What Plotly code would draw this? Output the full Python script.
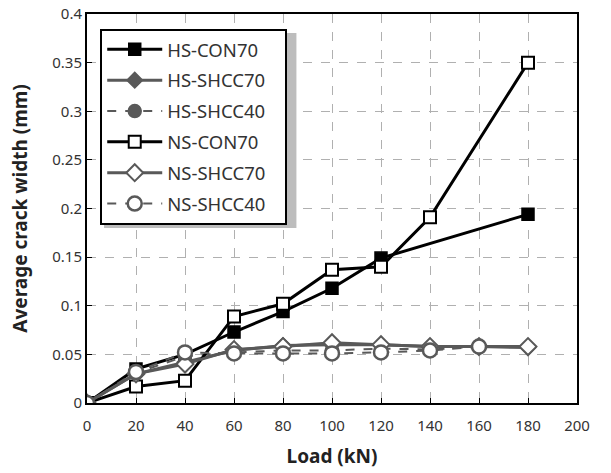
import plotly.graph_objects as go

load_con = [0, 20, 40, 60, 80, 100, 120, 180]
hs_con70 = [0, 0.035, 0.050, 0.073, 0.094, 0.118, 0.149, 0.194]
load_ns_con = [0, 20, 40, 60, 80, 100, 120, 140, 180]
ns_con70 = [0, 0.017, 0.023, 0.089, 0.102, 0.137, 0.140, 0.191, 0.350]

load_shcc = [0, 20, 40, 60, 80, 100, 120, 140, 160, 180]
hs_shcc70 = [0, 0.030, 0.042, 0.054, 0.059, 0.060, 0.060, 0.058, 0.058, 0.057]
ns_shcc70 = [0, 0.030, 0.040, 0.055, 0.058, 0.062, 0.060, 0.058, 0.058, 0.058]
load_shcc40 = [0, 20, 40, 60, 80, 100, 120, 140, 160]
hs_shcc40 = [0, 0.031, 0.048, 0.052, 0.054, 0.054, 0.056, 0.055, 0.058]
ns_shcc40 = [0, 0.032, 0.052, 0.051, 0.051, 0.051, 0.052, 0.054, 0.058]

series_names = ["HS-CON70", "HS-SHCC70", "HS-SHCC40", "NS-CON70", "NS-SHCC70", "NS-SHCC40"]

x_ticks = list(range(0, 201, 20))
y_ticks = [0, 0.05, 0.1, 0.15, 0.2, 0.25, 0.3, 0.35, 0.4]
y_ticklabels = ["0", "0.05", "0.1", "0.15", "0.2", "0.25", "0.3", "0.35", "0.4"]

BLACK = "#000000"
GRAY = "#595959"
PAD = "\u00a0" * 3

fig = go.Figure()
fig.add_trace(go.Scatter(x=load_con, y=hs_con70, name=series_names[0] + PAD, legendgroup="a",
                         mode="lines+markers", line=dict(color=BLACK, width=3),
                         marker=dict(symbol="square", size=12, color=BLACK, line=dict(color=BLACK, width=1.5))))
fig.add_trace(go.Scatter(x=load_shcc, y=hs_shcc70, name=series_names[1] + PAD, legendgroup="b",
                         mode="lines+markers", line=dict(color=GRAY, width=3),
                         marker=dict(symbol="diamond", size=12, color=GRAY, line=dict(color=GRAY, width=1.5))))
fig.add_trace(go.Scatter(x=load_shcc40, y=hs_shcc40, name=series_names[2] + PAD, legendgroup="c",
                         mode="lines+markers", line=dict(color=GRAY, width=2, dash="dash"),
                         marker=dict(symbol="circle", size=13, color=GRAY, line=dict(color=GRAY, width=1.5))))
fig.add_trace(go.Scatter(x=load_ns_con, y=ns_con70, name=series_names[3] + PAD, legendgroup="d",
                         mode="lines+markers", line=dict(color=BLACK, width=3),
                         marker=dict(symbol="square", size=12, color="white", line=dict(color=BLACK, width=2))))
fig.add_trace(go.Scatter(x=load_shcc, y=ns_shcc70, name=series_names[4] + PAD, legendgroup="e",
                         mode="lines+markers", line=dict(color=GRAY, width=3),
                         marker=dict(symbol="diamond", size=13, color="white", line=dict(color=GRAY, width=2))))
fig.add_trace(go.Scatter(x=load_shcc40, y=ns_shcc40, name=series_names[5] + PAD, legendgroup="f",
                         mode="lines+markers", line=dict(color=GRAY, width=2, dash="dash"),
                         marker=dict(symbol="circle", size=14, color="white", line=dict(color=GRAY, width=2.5))))

# legend shadow
fig.add_shape(type="rect", xref="paper", yref="paper",
              x0=(104 - 87) / 489, x1=(296 - 87) / 489, y0=(403 - 228) / 389, y1=(403 - 33) / 389,
              fillcolor="#bdbdbd", line=dict(width=0), layer="above")

fig.update_layout(
    width=611, height=473,
    margin=dict(l=87, r=34, t=14, b=70, autoexpand=False),
    paper_bgcolor="white", plot_bgcolor="white",
    font=dict(family="Noto Sans, Open Sans, sans-serif", color="#333333", size=15),
    showlegend=True,
    legend=dict(x=0.027, y=0.962, xanchor="left", yanchor="top",
                bgcolor="white", bordercolor="black", borderwidth=2,
                font=dict(size=18.5, color="#333333"), tracegroupgap=3.8,
                itemwidth=55),
)
fig.update_xaxes(range=[0, 200], tickvals=x_ticks, showline=True, linecolor="black", linewidth=2,
                 mirror=True, ticks="inside", ticklen=5, tickcolor="black", automargin=False,
                 ticklabelstandoff=8,
                 showgrid=True, gridcolor="#b0b0b0", griddash="dash", gridwidth=1, zeroline=False,
                 title=dict(text="<b>Load (kN)</b>", font=dict(size=19, color="#222222"), standoff=16))
fig.update_yaxes(range=[0, 0.4], tickvals=y_ticks, ticktext=y_ticklabels, showline=True, linecolor="black",
                 linewidth=2, mirror=True, ticks="inside", ticklen=5, tickcolor="black", automargin=False,
                 showgrid=True, gridcolor="#b0b0b0", griddash="dash", gridwidth=1, zeroline=False,
                 title=dict(text="<b>Average crack width (mm)</b>", font=dict(size=19, color="#222222"), standoff=20))

fig.write_html("out.html")
